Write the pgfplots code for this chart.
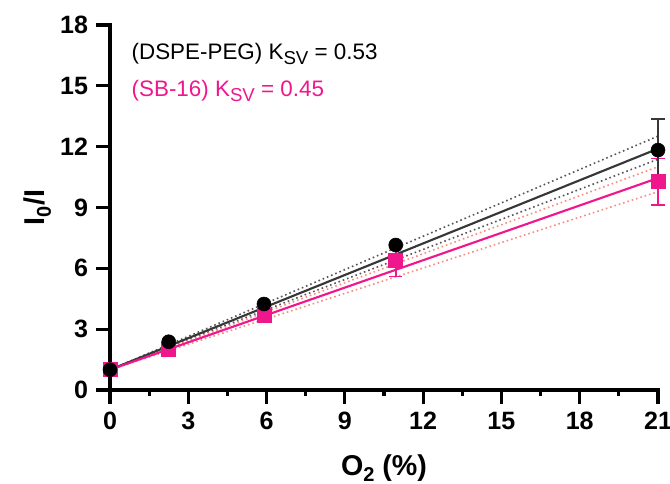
\documentclass[border=0pt]{standalone}
\usepackage{fontspec}
\setmainfont{Liberation Sans}
\usepackage{pgfplots}
\pgfplotsset{compat=1.18}

\definecolor{sbpink}{RGB}{240,22,140}
\definecolor{sbband}{RGB}{248,140,130}
\definecolor{dsline}{RGB}{55,55,55}
\definecolor{dsband}{RGB}{85,85,85}

% lowered, smaller subscripts for annotations and axis labels
\newcommand{\ksub}[1]{\raisebox{-3.6pt}{\fontsize{14}{16}\selectfont #1}}
\newcommand{\lsub}[1]{\raisebox{-4.6pt}{\fontsize{15}{17}\selectfont #1}}

\begin{document}
\begin{tikzpicture}
\begin{axis}[
  width=411pt, height=273.75pt, scale only axis,
  xmin=0, xmax=21, ymin=0, ymax=18,
  axis lines*=left,
  clip=false,
  xtick={0,3,...,21}, ytick={0,3,...,18},
  minor xtick={1.5,4.5,...,19.5},
  tick align=outside,
  axis line style={line width=2.4pt, line cap=rect},
  major tick style={line width=2.4pt, black},
  minor tick style={line width=2.4pt, black},
  major tick length=10.5pt,
  minor tick length=4.5pt,
  /pgf/number format/assume math mode=true,
  tick label style={font=\fontsize{18.8}{21}\selectfont\bfseries},
  xticklabel style={yshift=-2.5pt},
  yticklabel style={xshift=-2.5pt},
  xlabel={O\lsub{2} (\%)},
  ylabel={I\lsub{0}/I},
  label style={font=\fontsize{21.5}{24}\selectfont\bfseries},
  xlabel style={at={(axis description cs:0.5,0)}, anchor=base, yshift=-64pt},
  ylabel style={at={(axis description cs:0,0.5)}, anchor=base, rotate=0, yshift=49pt},
]

% confidence bands
\addplot[dsband, line width=1.2pt, dash pattern=on 1.2pt off 2.2pt] coordinates {(0,1) (21,12.52)};
\addplot[dsband, line width=1.2pt, dash pattern=on 1.2pt off 2.2pt] coordinates {(0,1) (21,11.38)};
\addplot[sbband, line width=1.2pt, dash pattern=on 1.2pt off 2.2pt] coordinates {(0,1) (21,11.01)};
\addplot[sbband, line width=1.2pt, dash pattern=on 1.2pt off 2.2pt] coordinates {(0,1) (21,9.78)};

% Stern-Volmer fits
\addplot[dsline, line width=1.6pt] coordinates {(0,1) (21,11.9)};
\addplot[sbpink, line width=1.6pt] coordinates {(0,1) (21,10.45)};

% SB-16
\addplot[sbpink, only marks, mark=square*, mark size=5.25pt,
  mark options={fill=sbpink, draw=sbpink},
  error bars/.cd, y dir=both, y explicit,
  error bar style={line width=1.2pt, sbpink},
  error mark options={rotate=90, mark size=5pt, line width=1.2pt, sbpink}]
  coordinates {
  (0,1.00) +- (0,0)
  (2.25,2.02) +- (0,0)
  (5.9,3.70) +- (0,0)
  (10.95,6.41) +- (0,0.82)
  (21,10.27) +- (0,1.14)
  };

% DSPE-PEG
\addplot[black, only marks, mark=*, mark size=5.25pt,
  mark options={fill=black, draw=black},
  error bars/.cd, y dir=both, y explicit,
  error bar style={line width=1.2pt, dsline},
  error mark options={rotate=90, mark size=5pt, line width=1.2pt, dsline}]
  coordinates {
  (0,1.00) +- (0,0)
  (2.25,2.38) +- (0,0)
  (5.9,4.24) +- (0,0)
  (10.95,7.15) +- (0,0)
  (21,11.83) +- (0,1.52)
  };

\node[anchor=base west, font=\fontsize{16.8}{20}\selectfont, text=black, inner sep=0pt]
  at (axis cs:0.82,16.3) {(DSPE-PEG) K\ksub{SV} = 0.53};
\node[anchor=base west, font=\fontsize{16.8}{20}\selectfont, text=sbpink, inner sep=0pt]
  at (axis cs:0.82,14.46) {(SB-16) K\ksub{SV} = 0.45};
\end{axis}
\pgfresetboundingbox
\useasboundingbox (-82.5pt,-70.5pt) rectangle (420pt,292.5pt);
\end{tikzpicture}
\end{document}
